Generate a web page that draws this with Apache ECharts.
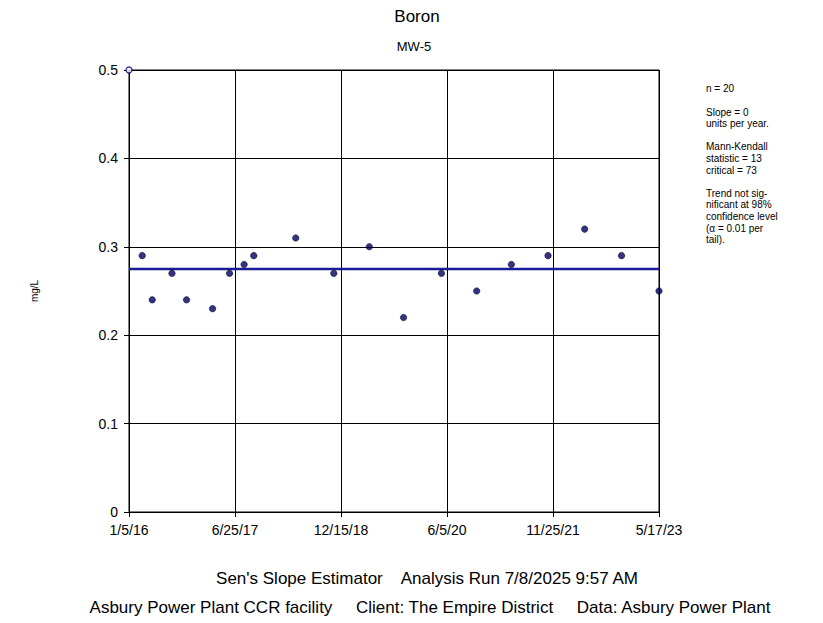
<!DOCTYPE html>
<html>
<head>
<meta charset="utf-8">
<title>Boron MW-5</title>
<script src="https://cdn.jsdelivr.net/npm/echarts@6/dist/echarts.min.js"></script>
<style>
  html, body { margin: 0; padding: 0; background: #ffffff; }
  #chart { width: 823px; height: 623px; }
</style>
</head>
<body>
<div id="chart"></div>
<script>
// Boron concentrations at well MW-5 (mg/L)
const detectDates = [
  '2016-03-12', '2016-05-02', '2016-08-10', '2016-10-23', '2017-03-04',
  '2017-05-29', '2017-08-11', '2017-09-29', '2018-04-30', '2018-11-09',
  '2019-05-08', '2019-10-29', '2020-05-08', '2020-11-03', '2021-04-28',
  '2021-10-31', '2022-05-05', '2022-11-08', '2023-05-17'
];
const detectValues = [
  0.29, 0.24, 0.27, 0.24, 0.23,
  0.27, 0.28, 0.29, 0.31, 0.27,
  0.30, 0.22, 0.27, 0.25, 0.28,
  0.29, 0.32, 0.29, 0.25
];
// non-detect result (reporting limit)
const nonDetectDates = ['2016-01-05'];
const nonDetectValues = [0.5];

// Sen's slope trend: slope 0, median level
const trendSlopePerYear = 0;
const trendLevel = 0.275;

// axis ticks
const xTickLabels = ['1/5/16', '6/25/17', '12/15/18', '6/5/20', '11/25/21', '5/17/23'];
const xStartDate = '2016-01-05';
const xEndDate = '2023-05-17';
const yTickLabels = ['0', '0.1', '0.2', '0.3', '0.4', '0.5'];

const statsLines = [
  'n = 20', '',
  'Slope = 0', 'units per year.', '',
  'Mann-Kendall', 'statistic = 13', 'critical = 73', '',
  'Trend not sig-', 'nificant at 98%', 'confidence level', '(\u03b1 = 0.01 per', 'tail).'
];

const DAY = 86400000;
const t0 = Date.parse(xStartDate + 'T00:00:00Z');
const toDay = d => Math.round((Date.parse(d + 'T00:00:00Z') - t0) / DAY);
const xMax = toDay(xEndDate);
const xTickStep = xMax / (xTickLabels.length - 1);

const detectData = detectDates.map((d, i) => [toDay(d), detectValues[i]]);
const nonDetectData = nonDetectDates.map((d, i) => [toDay(d), nonDetectValues[i]]);
const trendData = [
  [0, trendLevel],
  [xMax, trendLevel + trendSlopePerYear * xMax / 365.25]
];

const FONT = '"Liberation Sans", Arial, sans-serif';
const chart = echarts.init(document.getElementById('chart'), null, { renderer: 'svg' });

chart.setOption({
  backgroundColor: '#ffffff',
  animation: false,
  textStyle: { fontFamily: FONT },
  grid: {
    left: 129, right: 164, top: 70, bottom: 111,
    show: true, borderColor: '#000000', borderWidth: 1
  },
  xAxis: {
    type: 'value',
    min: 0,
    max: xMax,
    interval: xTickStep,
    axisLine: { show: true, lineStyle: { color: '#000000', width: 1 } },
    axisTick: { show: true, length: 5, lineStyle: { color: '#000000' } },
    splitLine: { show: true, lineStyle: { color: '#000000', width: 1 } },
    axisLabel: {
      color: '#000000', fontSize: 14, fontFamily: FONT, margin: 11,
      showMaxLabel: true,
      formatter: v => xTickLabels[Math.round(v / xTickStep)] || ''
    }
  },
  yAxis: {
    type: 'value',
    min: 0,
    max: 0.5,
    interval: 0.1,
    name: 'mg/L',
    nameLocation: 'middle',
    nameRotate: 90,
    nameGap: 90,
    nameTextStyle: { color: '#000000', fontSize: 10, fontFamily: FONT },
    axisLine: { show: true, lineStyle: { color: '#000000', width: 1 } },
    axisTick: { show: true, length: 5, lineStyle: { color: '#000000' } },
    splitLine: { show: true, lineStyle: { color: '#000000', width: 1 } },
    axisLabel: {
      color: '#000000', fontSize: 14, fontFamily: FONT, margin: 11,
      formatter: v => yTickLabels[Math.round(v * 10)] || ''
    }
  },
  series: [
    {
      name: 'Trend',
      type: 'line',
      data: trendData,
      symbol: 'none',
      lineStyle: { color: '#1a1a9a', width: 2.5 },
      z: 3
    },
    {
      name: 'Detected',
      type: 'scatter',
      data: detectData,
      symbol: 'circle',
      symbolSize: 6.5,
      clip: false,
      itemStyle: { color: '#000066', borderColor: '#000000', borderWidth: 0.6 },
      z: 4
    },
    {
      name: 'Non-detect',
      type: 'scatter',
      data: nonDetectData,
      symbol: 'circle',
      symbolSize: 6,
      clip: false,
      itemStyle: { color: '#ffffff', borderColor: '#000080', borderWidth: 1.3 },
      z: 5
    }
  ],
  graphic: [
    {
      type: 'text', x: 417, y: 8,
      style: { text: 'Boron', font: '17px ' + FONT, fill: '#000000', align: 'center', verticalAlign: 'top' }
    },
    {
      type: 'text', x: 414, y: 40,
      style: { text: 'MW-5', font: '13px ' + FONT, fill: '#000000', align: 'center', verticalAlign: 'top' }
    },
    {
      type: 'text', x: 706, y: 83,
      style: { text: statsLines.join('\n'), font: '10px ' + FONT, lineHeight: 11.6, fill: '#000000', verticalAlign: 'top' }
    },
    {
      type: 'text', x: 427, y: 570,
      style: {
        text: "Sen's Slope Estimator    Analysis Run 7/8/2025 9:57 AM",
        font: '17px ' + FONT, fill: '#000000', align: 'center', verticalAlign: 'top'
      }
    },
    {
      type: 'text', x: 430, y: 599,
      style: {
        text: 'Asbury Power Plant CCR facility     Client: The Empire District     Data: Asbury Power Plant',
        font: '17px ' + FONT, fill: '#000000', align: 'center', verticalAlign: 'top'
      }
    }
  ]
});
</script>
</body>
</html>
